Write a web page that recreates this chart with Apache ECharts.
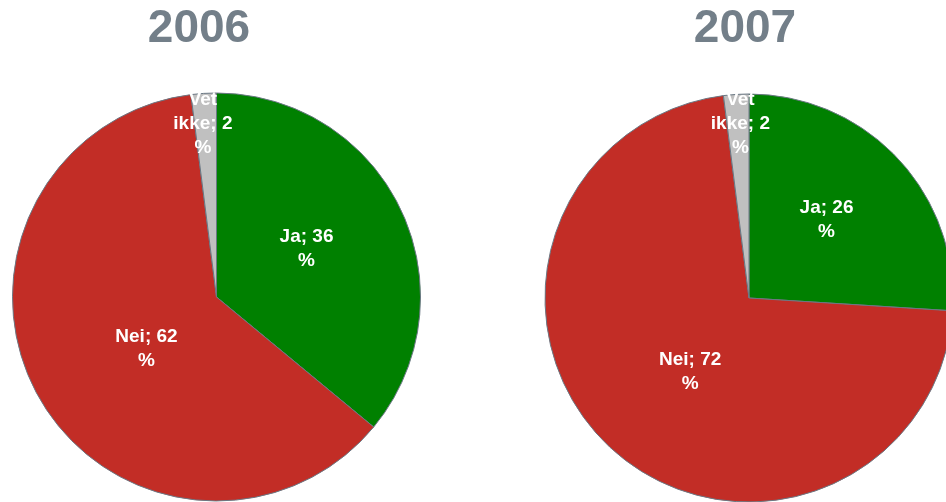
<!DOCTYPE html>
<html>
<head>
<meta charset="utf-8">
<script src="https://cdn.jsdelivr.net/npm/echarts@6/dist/echarts.min.js"></script>
<style>html,body{margin:0;padding:0;background:#fff}#c{width:946px;height:502px}</style>
</head>
<body>
<div id="c"></div>
<script>
var years = ['2006', '2007'];
var categories = ['Ja', 'Nei', 'Vet ikke'];
var values2006 = [36, 62, 2];
var values2007 = [26, 72, 2];

var colors = ['#008000', '#c22d26', '#c0c0c0'];
var centers = [[216.5, 297], [749, 298]];
var R = 204;
// small label nudges (dx, dy) per series/category
var nudges = [
  [[-5, -4], [22, 1], [-7, -68]],
  [[1, -6], [13, -3], [-2, -69]]
];

function makeSeries(vals, idx) {
  return {
    type: 'pie',
    center: centers[idx],
    radius: [0, R],
    startAngle: 90,
    clockwise: true,
    animation: false,
    silent: true,
    data: categories.map(function (n, i) {
      return { name: n, value: vals[i], itemStyle: { color: colors[i] } };
    }),
    itemStyle: { borderColor: '#6b7884', borderWidth: 1 },
    label: {
      show: true,
      position: 'inside',
      color: '#ffffff',
      fontFamily: 'Liberation Sans',
      fontWeight: 'bold',
      fontSize: 19,
      lineHeight: 24,
      align: 'center',
      formatter: function (p) {
        return p.name.replace(' ', '\n') + '; ' + p.value + '\n%';
      }
    },
    labelLine: { show: false },
    labelLayout: function (p) {
      var d = nudges[idx][p.dataIndex];
      return { dx: d[0], dy: d[1] };
    }
  };
}

var chart = echarts.init(document.getElementById('c'), null, { renderer: 'canvas' });
chart.setOption({
  backgroundColor: '#ffffff',
  animation: false,
  graphic: years.map(function (y, i) {
    return {
      type: 'text',
      x: i === 0 ? 199 : 745,
      y: 29,
      style: {
        text: y,
        fill: '#737f89',
        font: 'bold 46px "Liberation Sans"',
        textAlign: 'center',
        textVerticalAlign: 'middle'
      }
    };
  }),
  series: [makeSeries(values2006, 0), makeSeries(values2007, 1)]
});
</script>
</body>
</html>
